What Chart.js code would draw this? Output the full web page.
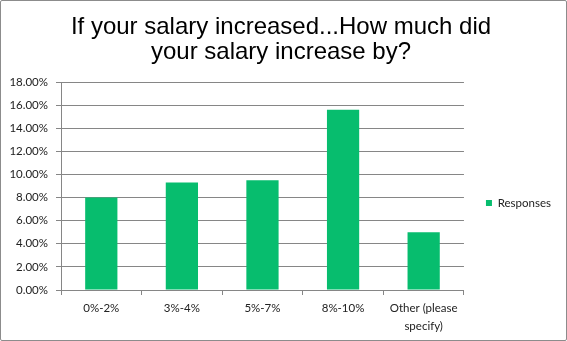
<!DOCTYPE html>
<html>
<head>
<meta charset="utf-8">
<script src="https://cdn.jsdelivr.net/npm/chart.js@4"></script>
<style>
html,body{margin:0;padding:0;background:#fff;}
#wrap{width:567px;height:341px;box-sizing:border-box;border:1px solid #8c8c8c;border-radius:2px;background:#fff;}
</style>
</head>
<body>
<div id="wrap"><canvas id="c"></canvas></div>
<script>
const titleLines = ['If your salary increased...How much did', 'your salary increase by?'];
const categories = ['0%-2%', '3%-4%', '5%-7%', '8%-10%', ['Other (please', 'specify)']];
const seriesName = 'Responses';
const responses = [8.0, 9.3, 9.5, 15.6, 5.0];
const yTicksMax = 18;
const yTickStep = 2;

const tickFont = {family: 'Lato, "Open Sans", sans-serif', size: 11.5};

const legendShift = {
  id: 'legendShift',
  afterLayout(chart) {
    const l = chart.legend;
    if (!l) return;
    const target = 202; // desired legend item centre (canvas px)
    const mid = (l.top + l.bottom) / 2;
    const d = target - mid;
    l.top += d; l.bottom += d;
  }
};

new Chart(document.getElementById('c'), {
  type: 'bar',
  data: {
    labels: categories,
    datasets: [{
      label: seriesName,
      data: responses,
      backgroundColor: '#07bd6e',
      borderWidth: 0,
      barPercentage: 0.4,
      categoryPercentage: 1.0
    }]
  },
  plugins: [legendShift],
  options: {
    responsive: true,
    maintainAspectRatio: false,
    animation: false,
    devicePixelRatio: 1,
    layout: {padding: {left: 0, right: 5, top: 0, bottom: 0}},
    plugins: {
      title: {
        display: true,
        text: titleLines,
        color: '#000',
        font: {family: '"Liberation Sans", Arial, sans-serif', size: 24, weight: 'normal', lineHeight: 25/24},
        padding: {top: 14, bottom: 17}
      },
      legend: {
        position: 'right',
        labels: {
          boxWidth: 6,
          boxHeight: 6,
          padding: 22,
          color: '#222',
          font: {family: 'Lato, "Open Sans", sans-serif', size: 11.5}
        }
      },
      tooltip: {enabled: false}
    },
    scales: {
      x: {
        grid: {display: true, drawOnChartArea: false, drawTicks: true, tickLength: 5, color: '#868686', offset: true},
        border: {display: true, color: '#868686'},
        ticks: {color: '#222', font: Object.assign({lineHeight: 1.5}, tickFont), padding: 5, maxRotation: 0, autoSkip: false},
        afterFit: s => { s.height = 50; }
      },
      y: {
        min: 0,
        max: yTicksMax,
        ticks: {stepSize: yTickStep, color: '#222', font: tickFont, padding: 8,
          callback: v => v.toFixed(2) + '%'},
        grid: {color: '#868686', tickLength: 5, drawTicks: true},
        border: {display: true, color: '#868686'},
        afterFit: s => { s.width = 60; }
      }
    }
  }
});
</script>
</body>
</html>
